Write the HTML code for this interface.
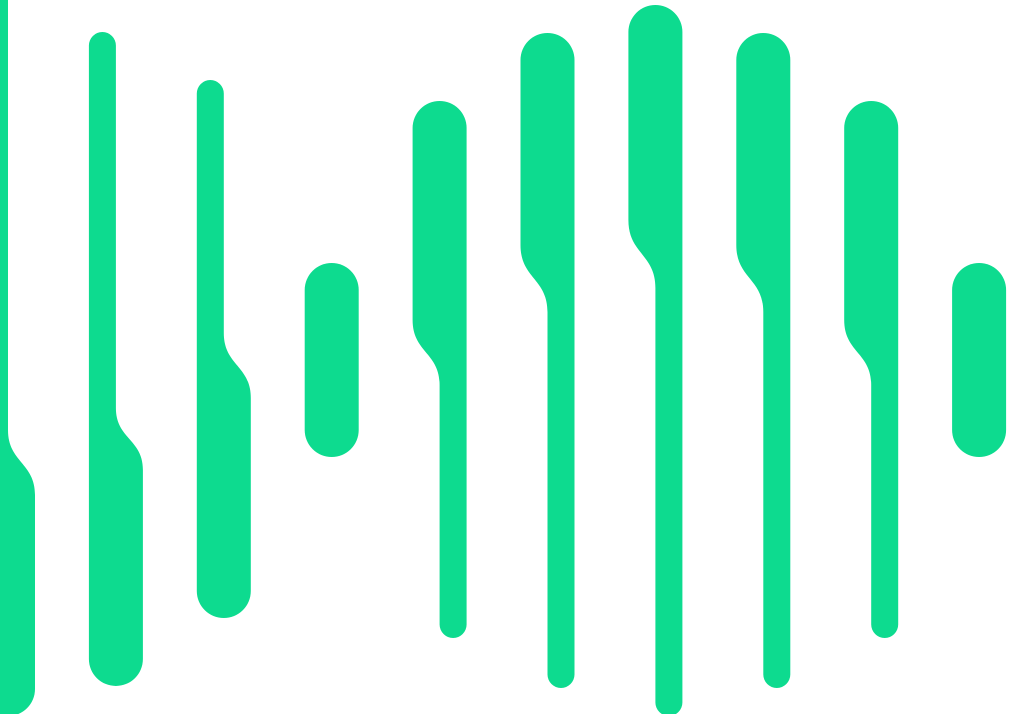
<!DOCTYPE html>
<html><head><meta charset="utf-8">
<style>
html,body{margin:0;padding:0;background:#fff;width:1024px;height:714px;overflow:hidden}
svg{display:block}
</style></head>
<body>
<svg id="chart" width="1024" height="714" viewBox="0 0 1024 714" xmlns="http://www.w3.org/2000/svg"></svg>
<script>
// Bar data (y-values in px from top of canvas)
const barKinds   = ['thinTop','thinTop','thinTop','pill','thickTop','thickTop','thickTop','thickTop','thickTop','pill'];
const barTops    = [-20, 32, 80, 263, 101, 33, 5, 33, 101, 263];
const barBottoms = [716, 686, 618, 457, 638, 688, 716, 688, 638, 457];
const neckStarts = [430, 408, 333, 0, 320, 245, 220, 245, 320, 0];
const neckEnds   = [495, 470, 398, 0, 385, 312, 288, 312, 385, 0];

const svg = document.getElementById('chart');
const NS = 'http://www.w3.org/2000/svg';
const COLOR = '#0DDB8F';
const thin = 27, thick = 54;
const pitch = 107.9, firstLeft = -19;

function xLeft(i){ return firstLeft + i*pitch; }

for (let i = 0; i < barKinds.length; i++) {
  const kind = barKinds[i], T = barTops[i], B = barBottoms[i];
  const y1 = neckStarts[i], y2 = neckEnds[i], d = y2 - y1;
  const L = xLeft(i);
  let dStr;
  if (kind === 'pill') {
    const r = thick/2;
    dStr = `M${L},${T+r} A${r},${r} 0 0 1 ${L+thick},${T+r} L${L+thick},${B-r} A${r},${r} 0 0 1 ${L},${B-r} Z`;
  } else if (kind === 'thinTop') {
    const r = thin/2, R = thick/2;
    dStr = `M${L},${T+r} A${r},${r} 0 0 1 ${L+thin},${T+r} L${L+thin},${y1} ` +
           `C${L+thin},${y1+0.5*d} ${L+thick},${y2-0.5*d} ${L+thick},${y2} ` +
           `L${L+thick},${B-R} A${R},${R} 0 0 1 ${L},${B-R} Z`;
  } else {
    const Rx = L + thick, r = thin/2, R = thick/2;
    dStr = `M${L},${T+R} A${R},${R} 0 0 1 ${Rx},${T+R} L${Rx},${B-r} ` +
           `A${r},${r} 0 0 1 ${Rx-thin},${B-r} L${Rx-thin},${y2} ` +
           `C${Rx-thin},${y2-0.5*d} ${L},${y1+0.5*d} ${L},${y1} Z`;
  }
  const p = document.createElementNS(NS, 'path');
  p.setAttribute('d', dStr);
  p.setAttribute('fill', COLOR);
  
  
  svg.appendChild(p);
}
</script>
</body></html>
